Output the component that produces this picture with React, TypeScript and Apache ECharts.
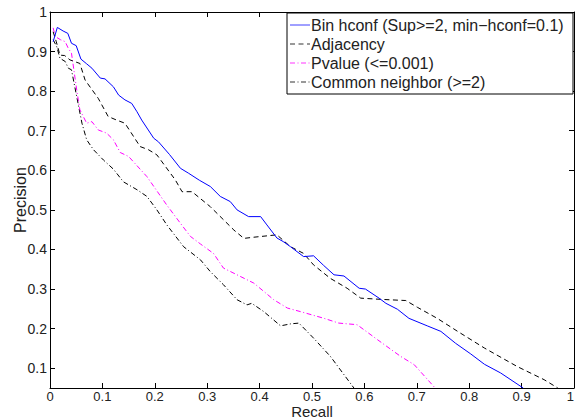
import React, { useEffect, useRef } from "react";
import * as echarts from "echarts";

const seriesNames = [
  "Bin hconf (Sup>=2, min\u2212hconf=0.1)",
  "Adjacency",
  "Pvalue (<=0.001)",
  "Common neighbor (>=2)",
];

const binRecall = [0.006, 0.014, 0.025, 0.034, 0.041, 0.05, 0.059, 0.07, 0.08, 0.096, 0.105, 0.121, 0.131, 0.143, 0.156, 0.166, 0.175, 0.198, 0.207, 0.228, 0.249, 0.264, 0.285, 0.306, 0.325, 0.344, 0.357, 0.379, 0.402, 0.414, 0.433, 0.445, 0.459, 0.484, 0.503, 0.522, 0.542, 0.561, 0.59, 0.602, 0.628, 0.641, 0.663, 0.685, 0.72, 0.746, 0.774, 0.803, 0.829, 0.86, 0.903];
const binPrecision = [0.925, 0.961, 0.952, 0.946, 0.921, 0.915, 0.881, 0.869, 0.858, 0.833, 0.831, 0.811, 0.79, 0.778, 0.769, 0.748, 0.727, 0.681, 0.672, 0.64, 0.605, 0.593, 0.575, 0.559, 0.534, 0.521, 0.5, 0.483, 0.483, 0.462, 0.429, 0.42, 0.407, 0.382, 0.384, 0.36, 0.336, 0.333, 0.302, 0.3, 0.277, 0.264, 0.249, 0.226, 0.207, 0.193, 0.163, 0.136, 0.11, 0.088, 0.05];

const adjRecall = [0.006, 0.012, 0.019, 0.028, 0.038, 0.057, 0.067, 0.092, 0.111, 0.127, 0.143, 0.172, 0.188, 0.204, 0.239, 0.252, 0.271, 0.306, 0.351, 0.37, 0.389, 0.433, 0.459, 0.484, 0.503, 0.535, 0.567, 0.593, 0.631, 0.679, 0.701, 0.739, 0.778, 0.829, 0.892, 0.943, 0.969];
const adjPrecision = [0.95, 0.925, 0.891, 0.89, 0.879, 0.87, 0.828, 0.782, 0.736, 0.727, 0.719, 0.66, 0.652, 0.639, 0.576, 0.546, 0.546, 0.508, 0.449, 0.428, 0.431, 0.437, 0.407, 0.39, 0.361, 0.327, 0.302, 0.277, 0.274, 0.271, 0.254, 0.226, 0.193, 0.151, 0.104, 0.071, 0.05];

const pvalRecall = [0.006, 0.01, 0.02, 0.029, 0.035, 0.041, 0.051, 0.057, 0.07, 0.08, 0.092, 0.108, 0.121, 0.134, 0.15, 0.185, 0.223, 0.249, 0.268, 0.287, 0.312, 0.331, 0.363, 0.389, 0.427, 0.453, 0.478, 0.523, 0.551, 0.586, 0.625, 0.669, 0.695, 0.735];
const pvalPrecision = [0.96, 0.938, 0.93, 0.925, 0.908, 0.896, 0.803, 0.753, 0.719, 0.723, 0.702, 0.694, 0.677, 0.645, 0.635, 0.584, 0.512, 0.466, 0.433, 0.414, 0.39, 0.353, 0.332, 0.315, 0.273, 0.252, 0.243, 0.226, 0.214, 0.21, 0.172, 0.13, 0.109, 0.05];

const cnRecall = [0.006, 0.013, 0.019, 0.029, 0.035, 0.041, 0.051, 0.061, 0.07, 0.083, 0.102, 0.121, 0.14, 0.166, 0.185, 0.204, 0.223, 0.255, 0.287, 0.306, 0.331, 0.357, 0.376, 0.385, 0.408, 0.44, 0.459, 0.475, 0.503, 0.535, 0.58];
const cnPrecision = [0.93, 0.912, 0.883, 0.875, 0.858, 0.854, 0.786, 0.719, 0.677, 0.652, 0.626, 0.603, 0.571, 0.551, 0.534, 0.5, 0.462, 0.407, 0.374, 0.344, 0.311, 0.273, 0.26, 0.264, 0.243, 0.207, 0.212, 0.214, 0.176, 0.13, 0.05];

const xTickValues = [0, 0.1, 0.2, 0.3, 0.4, 0.5, 0.6, 0.7, 0.8, 0.9, 1];
const yTickValues = [0.1, 0.2, 0.3, 0.4, 0.5, 0.6, 0.7, 0.8, 0.9, 1];

const xAxisName = "Recall";
const yAxisName = "Precision";

const FONT = "Liberation Sans, Arial, Helvetica, sans-serif";
const TEXT = "#222";

const colors = ["#0000ff", "#000000", "#ff00ff", "#000000"];
const dashes: any[] = ["solid", [5, 3.5], [5, 2.5, 1, 2.5], [5, 2.5, 1, 2.5]];

function zip(a: number[], b: number[]) {
  return a.map((v, i) => [v, b[i]]);
}

export default function App() {
  const ref = useRef<HTMLDivElement>(null);
  useEffect(() => {
    if (!ref.current) return;
    const chart = echarts.init(ref.current, undefined, { renderer: "svg" });
    const recalls = [binRecall, adjRecall, pvalRecall, cnRecall];
    const precisions = [binPrecision, adjPrecision, pvalPrecision, cnPrecision];

    const baseX = {
      type: "value" as const,
      min: 0,
      max: 1,
      splitLine: { show: false },
      axisLine: { show: true, onZero: false, lineStyle: { color: "#000", width: 1 } },
    };
    const baseY = {
      type: "value" as const,
      min: 0.05,
      max: 1,
      splitLine: { show: false },
      axisLine: { show: true, onZero: false, lineStyle: { color: "#000", width: 1 } },
    };

    const legendLeft = 287;
    const legendTop = 13;
    const rowY = [25, 44, 63, 82];
    const legendGraphics: any[] = [
      {
        type: "rect",
        shape: { x: legendLeft, y: legendTop, width: 286, height: 81 },
        style: { fill: "#fff", stroke: "#000", lineWidth: 1 },
        z: 100,
      },
    ];
    seriesNames.forEach((name, i) => {
      legendGraphics.push({
        type: "line",
        shape: { x1: legendLeft + 3, y1: rowY[i], x2: legendLeft + 23, y2: rowY[i] },
        style: {
          stroke: colors[i],
          lineWidth: 1,
          lineDash: dashes[i] === "solid" ? null : dashes[i],
          opacity: i === 0 ? 0.75 : 0.8,
        },
        z: 101,
      });
      legendGraphics.push({
        type: "text",
        x: legendLeft + 24,
        y: rowY[i],
        style: {
          text: name,
          font: `16px ${FONT}`,
          fill: TEXT,
          verticalAlign: "middle",
          align: "left",
        },
        z: 101,
      });
    });

    chart.setOption({
      animation: false,
      backgroundColor: "#fff",
      textStyle: { fontFamily: FONT },
      grid: { left: 50, right: 1, top: 12, bottom: 31, containLabel: false, outerBoundsMode: "none" },
      xAxis: [
        {
          ...baseX,
          position: "bottom",
          name: xAxisName,
          nameLocation: "middle",
          nameGap: 16,
          nameMoveOverlap: false,
          nameTextStyle: { fontSize: 15, lineHeight: 15, color: TEXT, fontFamily: FONT },
          axisTick: { show: true, inside: true, length: 5, customValues: xTickValues, lineStyle: { color: "#000" } },
          axisLabel: {
            show: true,
            customValues: xTickValues,
            margin: 2,
            fontSize: 13,
            lineHeight: 13,
            color: TEXT,
            fontFamily: FONT,
            alignMaxLabel: "right",
          },
        },
        {
          ...baseX,
          position: "top",
          axisTick: { show: true, inside: true, length: 5, customValues: xTickValues, lineStyle: { color: "#000" } },
          axisLabel: { show: false },
        },
      ],
      yAxis: [
        {
          ...baseY,
          position: "left",
          name: yAxisName,
          nameLocation: "middle",
          nameGap: 22,
          nameMoveOverlap: false,
          nameTextStyle: { fontSize: 16, color: TEXT, fontFamily: FONT },
          axisTick: { show: true, inside: true, length: 5, customValues: yTickValues, lineStyle: { color: "#000" } },
          axisLabel: { show: true, customValues: yTickValues, margin: 3, fontSize: 14, color: TEXT, fontFamily: FONT },
        },
        {
          ...baseY,
          position: "right",
          axisTick: { show: true, inside: true, length: 5, customValues: yTickValues, lineStyle: { color: "#000" } },
          axisLabel: { show: false },
        },
      ],
      series: seriesNames.map((name, i) => ({
        name,
        type: "line",
        xAxisIndex: 0,
        yAxisIndex: 0,
        data: zip(recalls[i], precisions[i]),
        symbol: "none",
        showSymbol: false,
        clip: true,
        z: 10 - i,
        lineStyle: { color: colors[i], width: 1, type: dashes[i] },
      })),
      graphic: legendGraphics,
    });
    return () => chart.dispose();
  }, []);
  return (
    <div
      ref={ref}
      style={{ position: "fixed", left: 0, top: 0, width: 575, height: 419 }}
    />
  );
}
